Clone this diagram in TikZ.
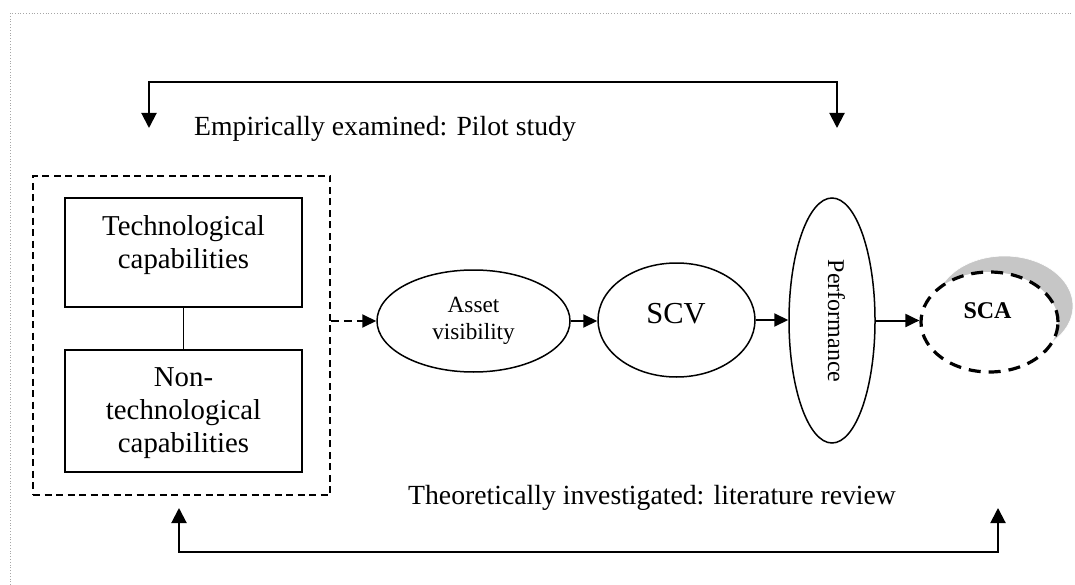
\documentclass[tikz,border=0pt]{standalone}
\usepackage{fontspec}
\setmainfont{Liberation Serif}
\usetikzlibrary{shapes.geometric,arrows.meta}

\tikzset{
  frame/.style={draw=gray!70, line width=0.9pt, dash pattern=on 0.9pt off 1.9pt},
  capbox/.style={draw, line width=1.5pt, inner sep=0pt, minimum width=237pt},
  groupbox/.style={draw, line width=1.6pt, dash pattern=on 7pt off 4.5pt, inner sep=0pt,
    minimum width=297pt, minimum height=319pt},
  oval/.style={draw, ellipse, line width=1.5pt, inner sep=0pt},
  lbl/.style={inner sep=0pt, align=center},
  bigfont/.style={font=\fontsize{28.8}{33}\selectfont},
  notefont/.style={font=\fontsize{27.7}{33}\selectfont},
  flow/.style={line width=2pt, -{Triangle[length=14pt,width=13pt]}},
  dashedflow/.style={flow, dash pattern=on 8pt off 5pt},
  loopline/.style={line width=2pt, {Triangle[length=15pt,width=15pt]}-{Triangle[length=15pt,width=15pt]}},
}

\begin{document}
\begin{tikzpicture}[x=1pt,y=-1pt]
\useasboundingbox (0,0) rectangle (1075,585);

% dotted page frame
\coordinate (frameBL) at (10,585);
\coordinate (frameTL) at (10,13);
\coordinate (frameTR) at (1073,13);
\draw[frame] (frameBL) -- (frameTL) -- (frameTR);

% capability group
\node[groupbox] (group) at (181.5,335.5) {};
\node[capbox, minimum height=109pt] (tech) at (183.5,252.5) {};
\node[capbox, minimum height=122pt] (nontech) at (183.5,411) {};
\node[lbl, bigfont] (techtxt) at (183.5,244.75) {Technological\\capabilities};
\node[lbl, bigfont] (nontechtxt) at (183.5,413.5) {Non-\\technological\\capabilities};
\draw[line width=1.5pt] (tech.south) -- (nontech.north);

% chain of constructs
\node[oval, minimum width=193pt, minimum height=102pt] (asset) at (473.5,321) {};
\node[lbl, font=\fontsize{23.2}{27}\selectfont] (assettxt) at (473.5,321.3) {Asset\\visibility};

\node[oval, minimum width=157pt, minimum height=114pt] (scv) at (676.5,320) {};
\node[lbl, font=\fontsize{30.5}{36}\selectfont] (scvtxt) at (676,314) {SCV};

\node[oval, minimum width=86pt, minimum height=245pt] (perf) at (832,320.5) {};
\node[lbl, font=\fontsize{24}{28}\selectfont, rotate=-90] (perftxt) at (836.5,321) {Performance};

\node[ellipse, fill=gray!45, draw=white, line width=0.6pt, inner sep=0pt,
  minimum width=137pt, minimum height=100pt] (scashade) at (1004.5,306) {};
\node[oval, fill=white, line width=3.2pt, dash pattern=on 12pt off 8pt,
  minimum width=137pt, minimum height=100pt] (sca) at (989.5,322) {};
\node[lbl, font=\bfseries\fontsize{24}{28}\selectfont] (scatxt) at (987.5,311) {SCA};

\draw[dashedflow] (group.east |- asset.west) -- (asset.west);
\draw[flow] (asset.east) -- (asset.east -| scv.west);
\draw[flow] (scv.east) -- (scv.east -| perf.west);
\draw[flow] (perf.east) -- (perf.east -| sca.west);

% empirical loop (top)
\coordinate (empL) at (149,128);
\coordinate (empR) at (837,128);
\coordinate (empTop) at (0,82);
\draw[loopline] (empL) -- (empL |- empTop) -- (empR |- empTop) -- (empR);
\node[lbl, notefont, anchor=west] (emp) at (194,128.5) {Empirically examined: Pilot study};

% theoretical loop (bottom)
\coordinate (theoL) at (179,508);
\coordinate (theoR) at (998,508);
\coordinate (theoBot) at (0,552);
\draw[loopline] (theoL) -- (theoL |- theoBot) -- (theoR |- theoBot) -- (theoR);
\node[lbl, notefont] (theo) at (652,497.5) {Theoretically investigated: literature review};
\end{tikzpicture}
\end{document}
